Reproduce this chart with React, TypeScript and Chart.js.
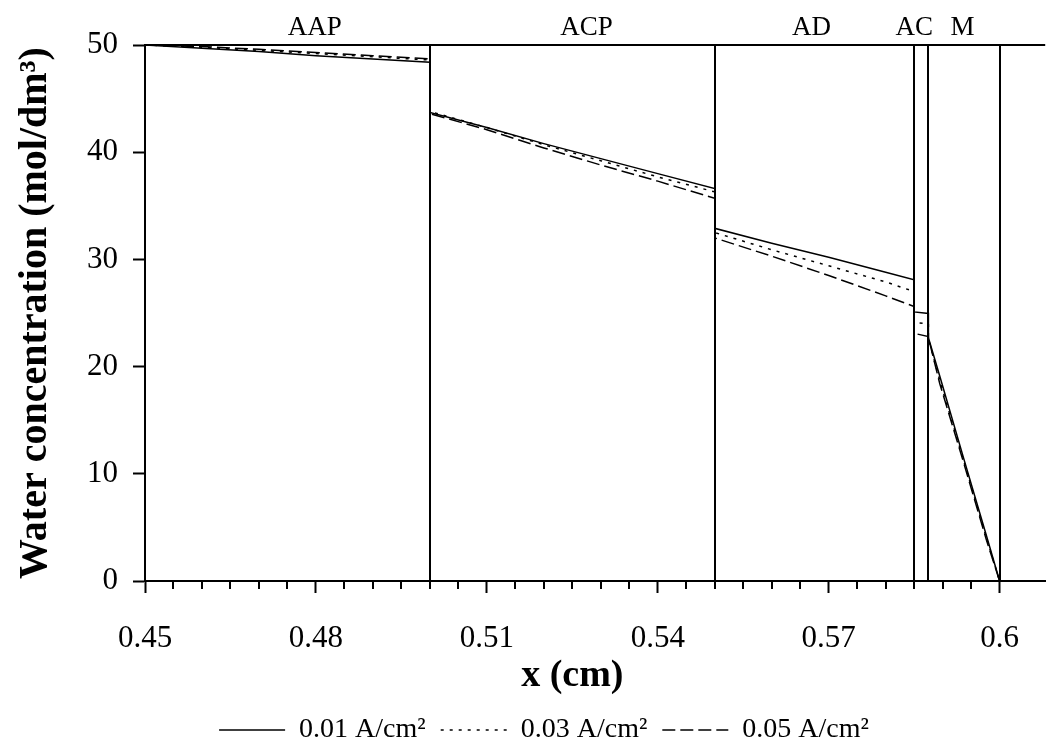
import React, { useEffect, useRef } from 'react';
import { Chart, registerables } from 'chart.js';

Chart.register(...registerables);

// ---- data ----
const xPositions = [
  0.45, 0.46, 0.47, 0.48, 0.49, 0.5,
  0.5, 0.51, 0.52, 0.53, 0.54, 0.55,
  0.55, 0.56, 0.57, 0.58, 0.585,
  0.585, 0.5875,
  0.5875, 0.5895, 0.5936, 0.5977, 0.6,
];
const current001 = [
  50.0, 49.7, 49.4, 49.0, 48.7, 48.4,
  43.7, 42.3, 40.8, 39.4, 38.0, 36.6,
  32.9, 31.5, 30.2, 28.8, 28.1,
  25.1, 24.95,
  22.7, 19.1, 11.6, 4.2, 0,
];
const current003 = [
  50.0, 49.8, 49.5, 49.2, 48.9, 48.6,
  43.8, 42.3, 40.7, 39.2, 37.7, 36.3,
  32.5, 30.9, 29.4, 27.9, 27.0,
  24.1, 24.0,
  22.6, 18.7, 11.4, 4.0, 0,
];
const current005 = [
  50.0, 49.85, 49.6, 49.3, 49.0, 48.7,
  43.6, 42.1, 40.4, 38.8, 37.3, 35.7,
  32.0, 30.3, 28.5, 26.6, 25.6,
  23.1, 22.8,
  22.7, 18.4, 11.2, 3.8, 0,
];
const seriesLabels = ['0.01 A/cm²', '0.03 A/cm²', '0.05 A/cm²'];
const regionBoundaries = [0.5, 0.55, 0.585, 0.5875, 0.6];
const regionNames = ['AAP', 'ACP', 'AD', 'AC', 'M'];
const regionLabelX = [0.4798, 0.5275, 0.567, 0.585, 0.5935];
const xMajorTicks = [0.45, 0.48, 0.51, 0.54, 0.57, 0.6];
const xTitle = 'x (cm)';
const yTitle = 'Water concentration (mol/dm³)';

const FONT = "'Liberation Serif', 'Times New Roman', serif";

const isMajor = (v: number) => xMajorTicks.some((t) => Math.abs(t - v) < 1e-9);

const decorPlugin = {
  id: 'decor',
  afterLayout(chart: any) {
    const lg = chart.legend;
    if (lg) {
      lg.top += 7;
      lg.bottom += 7;
      lg.left += 21;
      lg.right += 21;
    }
  },
  afterDraw(chart: any) {
    const { ctx, chartArea } = chart;
    const xs = chart.scales.x;
    const ys = chart.scales.y;
    const yTop = ys.getPixelForValue(50);
    const yBot = ys.getPixelForValue(0);
    ctx.save();
    ctx.strokeStyle = '#000';
    ctx.lineWidth = 2;
    ctx.setLineDash([]);
    // top border
    ctx.beginPath();
    ctx.moveTo(chartArea.left, yTop);
    ctx.lineTo(chartArea.right, yTop);
    ctx.stroke();
    // region boundaries
    regionBoundaries.forEach((b) => {
      const px = Math.round(xs.getPixelForValue(b));
      ctx.beginPath();
      ctx.moveTo(px, yTop);
      ctx.lineTo(px, yBot);
      ctx.stroke();
    });
    // minor ticks
    xs.ticks.forEach((t: any) => {
      if (isMajor(t.value)) return;
      const px = Math.round(xs.getPixelForValue(t.value));
      ctx.beginPath();
      ctx.moveTo(px, chartArea.bottom);
      ctx.lineTo(px, chartArea.bottom + 8);
      ctx.stroke();
    });
    // region labels
    ctx.fillStyle = '#000';
    ctx.font = `27px ${FONT}`;
    ctx.textAlign = 'center';
    ctx.textBaseline = 'alphabetic';
    regionNames.forEach((n, i) => {
      ctx.fillText(n, xs.getPixelForValue(regionLabelX[i]), chartArea.top - 10);
    });
    // x title
    ctx.font = `bold 38px ${FONT}`;
    const cx = (xs.getPixelForValue(xMajorTicks[0]) + xs.getPixelForValue(xMajorTicks[xMajorTicks.length - 1])) / 2;
    ctx.fillText(xTitle, cx, 686);
    ctx.restore();
  },
};

export default function App() {
  const ref = useRef<HTMLCanvasElement>(null);
  useEffect(() => {
    const canvas = ref.current;
    if (!canvas) return;
    const pts = (ys: number[]) => xPositions.map((x, i) => ({ x, y: ys[i] }));
    const dashes = [[], [3, 6], [13, 5]];
    const series = [current001, current003, current005];
    const chart = new Chart(canvas, {
      type: 'line',
      data: {
        datasets: series.map((s, i) => ({
          label: seriesLabels[i],
          data: pts(s),
          borderColor: '#000',
          backgroundColor: '#000',
          borderWidth: 1.5,
          borderDash: dashes[i],
          pointRadius: 0,
          pointStyle: 'line',
          fill: false,
          tension: 0,
          clip: false,
        })),
      },
      options: {
        animation: false,
        responsive: true,
        maintainAspectRatio: false,
        layout: { padding: { top: 45, left: 0, right: 0, bottom: 0 } },
        plugins: {
          tooltip: { enabled: false },
          legend: {
            position: 'bottom',
            labels: {
              usePointStyle: true,
              pointStyleWidth: 66,
              padding: 15,
              color: '#000',
              font: { family: FONT, size: 28 },
              generateLabels: (c: any) => {
                const items = (Chart.defaults as any).plugins.legend.labels.generateLabels(c);
                items.forEach((it: any) => {
                  const ds: any = c.data.datasets[it.datasetIndex];
                  it.lineDash = ds.borderDash;
                  it.lineWidth = ds.borderWidth;
                  it.strokeStyle = '#000';
                  it.fillStyle = '#000';
                  it.pointStyle = 'line';
                });
                return items;
              },
            },
          },
        },
        scales: {
          x: {
            type: 'linear',
            min: 0.45,
            max: 0.608,
            afterBuildTicks: (s: any) => {
              s.ticks = s.ticks.filter((t: any) => Math.abs(t.value * 200 - Math.round(t.value * 200)) < 1e-6);
            },
            afterFit: (s: any) => {
              const lh = s.chart.legend ? s.chart.legend.height : 0;
              s.height = s.chart.height - 581 - lh;
            },
            border: { display: true, color: '#000', width: 2 },
            grid: {
              drawOnChartArea: false,
              drawTicks: true,
              tickLength: 12,
              tickWidth: 2,
              tickColor: (c: any) => (c.tick && isMajor(c.tick.value) ? '#000' : 'rgba(0,0,0,0)'),
            },
            ticks: {
              stepSize: 0.005,
              autoSkip: false,
              maxRotation: 0,
              minRotation: 0,
              padding: 27,
              color: '#000',
              font: { family: FONT, size: 31 },
              callback: (v: any) => (isMajor(Number(v)) ? String(parseFloat(Number(v).toFixed(2))) : ''),
            },
          },
          y: {
            min: 0,
            max: 50,
            afterFit: (s: any) => {
              s.width = 145;
            },
            border: { display: true, color: '#000', width: 2 },
            grid: { drawOnChartArea: false, drawTicks: true, tickLength: 12, tickWidth: 2, tickColor: '#000' },
            ticks: {
              stepSize: 10,
              padding: 15,
              color: '#000',
              font: { family: FONT, size: 31 },
            },
            title: {
              display: true,
              text: yTitle,
              color: '#000',
              font: { family: FONT, size: 40, weight: 'bold' },
              padding: { top: 12, bottom: 0 },
            },
          },
        },
      },
      plugins: [decorPlugin],
    } as any);
    return () => chart.destroy();
  }, []);
  return (
    <div style={{ position: 'fixed', left: 0, top: 0, width: 1046, height: 747, background: '#fff' }}>
      <canvas ref={ref} />
    </div>
  );
}
